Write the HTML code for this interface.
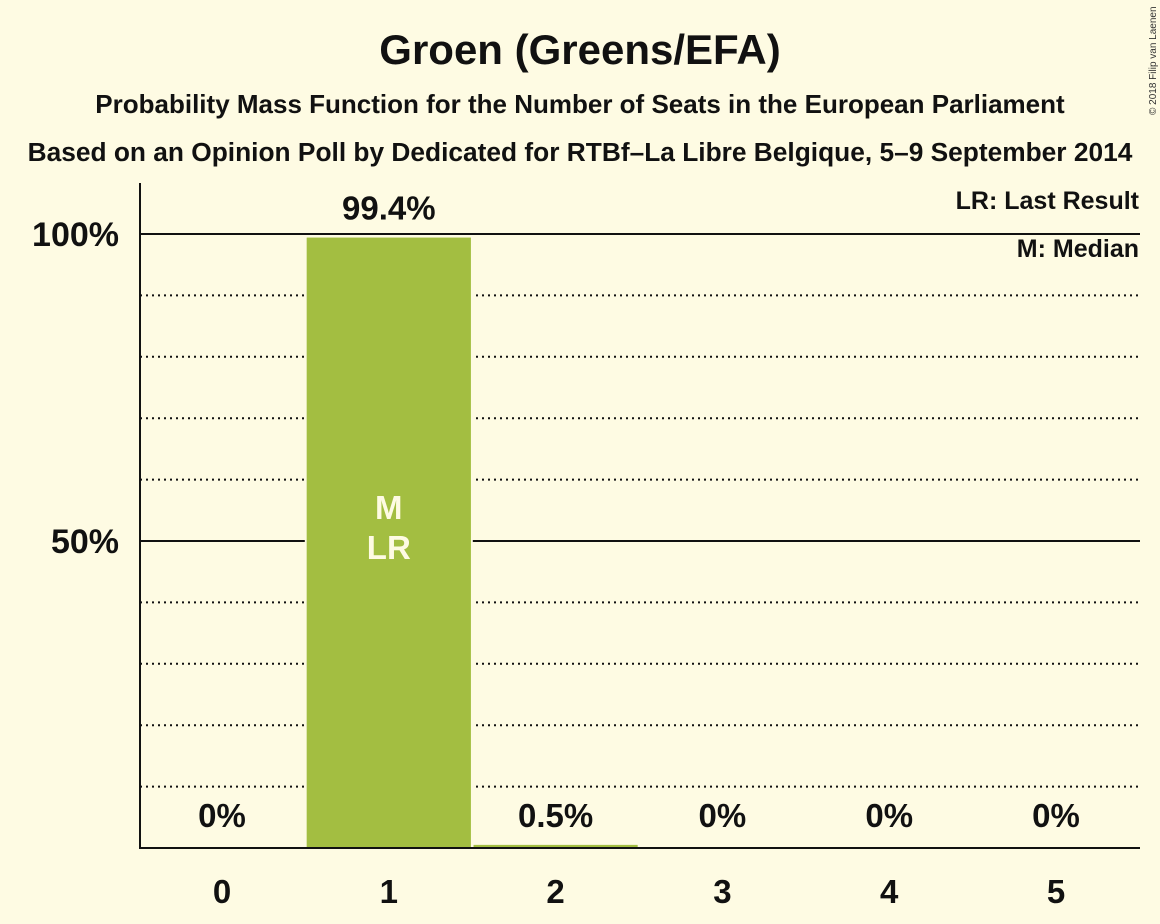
<!DOCTYPE html>
<html><head><meta charset="utf-8"><style>
body{margin:0;background:#FEFBE3;}
svg{display:block;font-family:"Liberation Sans",sans-serif;font-weight:bold;}
</style></head><body>
<svg width="1160" height="924" viewBox="0 0 1160 924" xmlns="http://www.w3.org/2000/svg">
<rect width="1160" height="924" fill="#FEFBE3"/>
<text x="580" y="64" text-anchor="middle" font-size="42" fill="#111">Groen (Greens/EFA)</text>
<text x="580" y="113" text-anchor="middle" font-size="26" fill="#111">Probability Mass Function for the Number of Seats in the European Parliament</text>
<text x="580" y="161" text-anchor="middle" font-size="26.3" fill="#111">Based on an Opinion Poll by Dedicated for RTBf–La Libre Belgique, 5–9 September 2014</text>
<text transform="translate(1156,115) rotate(-90)" font-size="10" font-weight="normal" fill="#333">© 2018 Filip van Laenen</text>
<g id="grid"></g>
<g id="bars"></g>
<g id="labels"></g>
<line x1="140" y1="183" x2="140" y2="849" stroke="#111" stroke-width="2"/>
<line x1="139" y1="848" x2="1140" y2="848" stroke="#111" stroke-width="2"/>
<text x="1139" y="209" text-anchor="end" font-size="25" fill="#111">LR: Last Result</text>
<text x="1139" y="257" text-anchor="end" font-size="25" fill="#111">M: Median</text>
</svg>
<script>
const categories=[0,1,2,3,4,5];
const values=[0,99.4,0.5,0,0,0];
const valueLabels=["0%","99.4%","0.5%","0%","0%","0%"];
const yTicks=[50,100];
const NS="http://www.w3.org/2000/svg";
const y=v=>848-v*6.14;
const x=c=>222+c*166.8;
const bw=164;
function mk(t,a,p){const e=document.createElementNS(NS,t);for(const k in a)e.setAttribute(k,a[k]);p.appendChild(e);return e;}
const g=document.getElementById('grid'),b=document.getElementById('bars'),l=document.getElementById('labels');
for(let v=10;v<=100;v+=10){
  const major=v%50===0;
  const ln=mk('line',{x1:140,x2:1140,y1:y(v),y2:y(v),stroke:'#111','stroke-width':2,'stroke-dasharray':major?'none':'2,4'},g);
  
  
}
yTicks.forEach(v=>{
  const t=mk('text',{x:119,y:y(v)+12,'text-anchor':'end','font-size':34,fill:'#111'},l);
  t.textContent=v+'%';
  
  
});
categories.forEach((c,i)=>{
  const v=values[i];
  if(v>0){
    const r=mk('rect',{x:x(c)-bw/2,y:y(v),width:bw,height:848-y(v),fill:'#A3BE41',stroke:'#FEFBE3','stroke-width':4,'paint-order':'stroke'},b);
    
    
    const r2=mk('rect',{x:x(c)-bw/2,y:y(v),width:bw,height:848-y(v),fill:'#A3BE41'},b);
    
    
  }
  const big=v>20;
  const t=mk('text',{x:x(c),y:big?y(v)-18:827,'text-anchor':'middle','font-size':33,fill:'#111'},l);
  t.textContent=valueLabels[i];
  
  
  const xt=mk('text',{x:x(c),y:903,'text-anchor':'middle','font-size':33,fill:'#111'},l);
  xt.textContent=String(c);
  
  
});
[['M',519],['LR',559]].forEach(([s,yy])=>{
  const t=mk('text',{x:x(1),y:yy,'text-anchor':'middle','font-size':33,fill:'#FEFBE3'},l);
  t.textContent=s;
  
  
});
</script>
</body></html>
